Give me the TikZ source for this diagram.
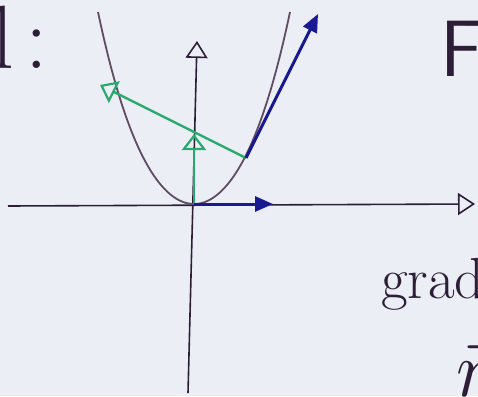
\RequirePackage{fix-cm}
\documentclass[tikz,border=0pt]{standalone}
\usepackage{tikz}
\usepackage{xcolor}
\usepackage{amsmath}
\usetikzlibrary{arrows.meta,calc}
\definecolor{paper}{RGB}{236,238,246}
\definecolor{ink}{RGB}{45,30,55}
\definecolor{curv}{RGB}{95,75,100}
\definecolor{grn}{RGB}{40,170,110}
\definecolor{blu}{RGB}{25,25,145}

\begin{document}
\begin{tikzpicture}[x=1pt,y=-1pt,
    axis/.style={ink,line width=1.6pt,-{Triangle[open,length=17pt,width=22pt,line width=1.6pt]}},
    curve/.style={curv,line width=1.8pt},
    normal/.style={grn,line width=2.4pt,-{Triangle[open,length=16pt,width=24pt,line width=2.2pt]}},
    tangent/.style={blu,line width=3pt,-{Triangle[length=18pt,width=15pt]}},
    hand/.style={ink,inner sep=0pt}]
    \fill[paper] (0,0) rectangle (478,396);
    \useasboundingbox (0,0) rectangle (478,396);
    % axes
    \coordinate (O) at (194,204);
    \coordinate (xl) at (8,206);
    \coordinate (xr) at (475,204);
    \coordinate (yb) at (188,393);
    \coordinate (yt) at (197,41);
    \draw[axis] (xl) -- (xr);
    \draw[axis] (yb) -- (yt);
    % parabola
    \draw[curve] plot[domain=-96:96,samples=80,smooth]
      ({194+\x},{204-169.5*(\x/100)^2-42.2*(\x/100)^4});
    % vectors at the vertex and at P
    \coordinate (P) at (246,158);
    \coordinate (nO) at (194,134);
    \coordinate (tO) at (273,204);
    \coordinate (nP) at (100,85);
    \coordinate (tP) at (318,14);
    \draw[normal] (O) -- (nO);
    \draw[normal] (P) -- (nP);
    \draw[tangent] (O) -- (tO);
    \draw[tangent] (P) -- (tP);
    % labels
    \node[hand,anchor=base west,font=\fontsize{90}{90}\selectfont] (lbl) at (-9,68) {l\hspace{12pt}:};
    \node[hand,anchor=base west,font=\fontsize{80}{80}\selectfont\sffamily] (F) at (440,76) {F};
    \node[hand,anchor=base west,font=\fontsize{58}{58}\selectfont] (grad) at (381,298) {grad};
    \node[hand,anchor=base west,font=\fontsize{80}{80}\selectfont] (n) at (456,396) {$\vec{n}$};
  \end{tikzpicture}
\end{document}
